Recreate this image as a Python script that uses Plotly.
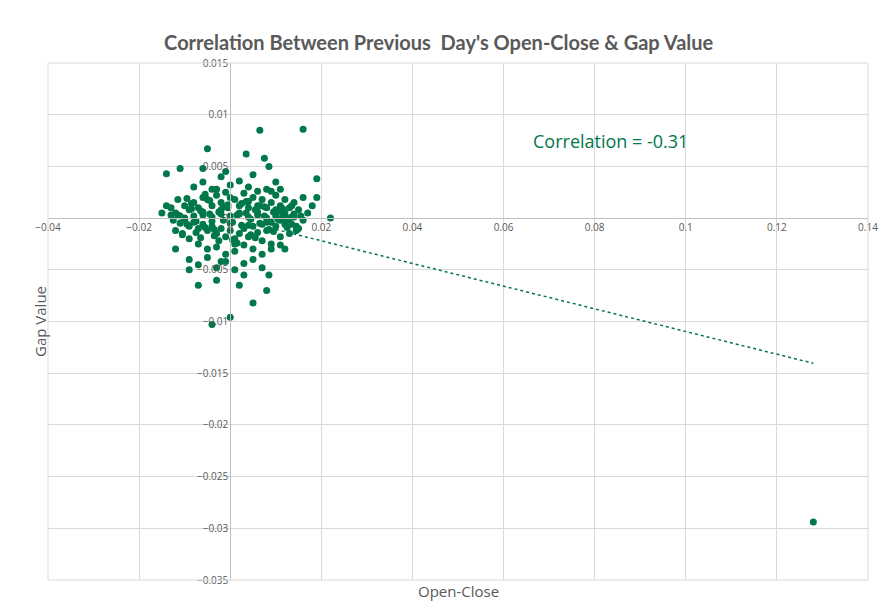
import plotly.graph_objects as go
import numpy as np

open_close = [0.128,0.016,0.0065,-0.005,0.0035,0.0075,0.0085,-0.014,-0.011,-0.006,0.019,0.019,0.022,0.017,-0.015,-0.012,-0.004,0.0,0.005,0.008,0.002,-0.007,0.0085,-0.009,-0.003,
 -0.013,-0.012,-0.010,-0.009,-0.008,-0.007,-0.006,-0.005,-0.004,-0.003,-0.002,-0.001,0.0,0.001,0.002,0.003,0.004,0.005,0.006,0.007,0.008,0.009,0.010,0.011,0.012,0.013,0.014,0.015,
 -0.011,-0.010,-0.009,-0.008,-0.007,-0.006,-0.005,-0.004,-0.003,-0.002,-0.001,0.0,0.001,0.002,0.003,0.004,0.005,0.006,0.007,0.008,0.009,0.010,0.011,0.012,0.013,
 -0.010,-0.008,-0.006,-0.004,-0.002,0.0,0.002,0.004,0.006,0.008,0.010,0.012,0.014,0.016,
 -0.012,-0.009,-0.007,-0.005,-0.003,-0.001,0.001,0.003,0.005,0.007,0.009,0.011,0.013,0.015,
 -0.008,-0.006,-0.004,-0.002,0.0,0.002,0.004,0.006,0.008,0.010,0.012,
 -0.009,-0.007,-0.005,-0.003,-0.001,0.001,0.003,0.005,0.007,0.009,0.011,
 -0.006,-0.004,-0.002,0.0,0.002,0.004,0.006,0.008,-0.003,0.001,0.005,0.009,0.003,-0.001,0.007,0.011,0.014,0.018,0.016,-0.013,-0.014,0.012,0.010,0.004,-0.002,
 -0.011,-0.0095,-0.0085,-0.0075,-0.0065,-0.0055,-0.0045,-0.0035,-0.0025,-0.0015,-0.0005,0.0005,0.0015,0.0025,0.0035,0.0045,0.0055,0.0065,0.0075,0.0085,0.0095,0.0105,0.0115,0.0125,0.0135,
 -0.0105,-0.0085,-0.0065,-0.0045,-0.0025,-0.0005,0.0015,0.0035,0.0055,0.0075,0.0095,0.0115,0.0135,
 -0.0095,-0.0075,-0.0055,-0.0035,-0.0015,0.0005,0.0025,0.0045,0.0065,0.0085,0.0105,0.0125,
 -0.0125,-0.0115,0.0145,0.0155,-0.0105,0.0135,-0.0115,0.0145]
gap_value = [-0.0294,0.0086,0.0085,0.0067,0.0062,0.0058,0.0050,0.0043,0.0048,0.0048,0.0038,0.0020,0.0,0.0005,0.0005,-0.0030,-0.0103,-0.0096,-0.0082,-0.0070,-0.0065,-0.0065,-0.0055,-0.0050,-0.0060,
 0.0010,0.0005,0.0012,0.0008,0.0015,0.0010,0.0020,0.0018,0.0012,0.0022,0.0015,0.0025,0.0020,0.0018,0.0012,0.0024,0.0016,0.0020,0.0012,0.0018,0.0010,0.0015,0.0008,0.0012,0.0005,0.0010,0.0004,0.0008,
 -0.0005,-0.0002,-0.0008,-0.0004,-0.0010,-0.0006,-0.0012,-0.0008,-0.0015,-0.0010,-0.0018,-0.0012,-0.0020,-0.0015,-0.0010,-0.0018,-0.0008,-0.0014,-0.0006,-0.0012,-0.0004,-0.0008,-0.0002,-0.0006,0.0000,
 0.0000,0.0002,0.0003,0.0001,0.0004,0.0002,0.0005,0.0001,0.0003,0.0000,0.0002,-0.0001,0.0001,-0.0002,
 -0.0012,-0.0020,-0.0025,-0.0030,-0.0028,-0.0035,-0.0032,-0.0026,-0.0030,-0.0022,-0.0025,-0.0018,-0.0015,-0.0010,
 0.0030,0.0035,0.0028,0.0040,0.0032,0.0036,0.0030,0.0026,0.0028,0.0022,0.0018,
 -0.0040,-0.0045,-0.0038,-0.0048,-0.0042,-0.0050,-0.0044,-0.0040,-0.0035,-0.0030,-0.0026,
 0.0006,-0.0003,0.0008,-0.0005,0.0004,-0.0007,0.0006,-0.0004,0.0028,-0.0025,0.0042,0.0026,-0.0055,0.0045,-0.0048,0.0028,0.0015,0.0012,0.0020,0.0003,0.0012,-0.0030,0.0035,0.0010,-0.0042,
 0.0002,-0.0006,0.0009,-0.0003,0.0007,-0.0009,0.0004,-0.0011,0.0006,-0.0002,0.0010,-0.0004,0.0003,-0.0007,0.0005,-0.0001,0.0008,-0.0005,0.0002,-0.0003,0.0006,-0.0001,0.0004,-0.0002,0.0001,
 -0.0016,0.0014,-0.0019,0.0017,-0.0022,0.0013,-0.0024,0.0016,-0.0019,0.0011,-0.0013,0.0009,-0.0006,
 0.0019,-0.0014,0.0023,-0.0017,0.0011,-0.0021,0.0014,-0.0016,0.0012,-0.0011,0.0007,-0.0009,
 -0.0002,0.0003,-0.0012,0.0002,-0.0015,0.0012,0.0018,-0.0008]

green = "#00784A"
slope, icpt = np.polyfit(open_close, gap_value, 1)
xl = np.array([0.01, max(open_close)])

fig = go.Figure()
fig.add_trace(go.Scatter(x=xl, y=slope*xl+icpt, mode="lines",
                         line=dict(color=green, width=1.5, dash="dot"), showlegend=False))
fig.add_trace(go.Scatter(x=open_close, y=gap_value, mode="markers",
                         marker=dict(color=green, size=7), showlegend=False))

ax = dict(showgrid=True, gridcolor="#d9d9d9", zeroline=False, showline=True,
          linecolor="#bfbfbf", ticks="", tickfont=dict(size=10, color="#595959", family="Open Sans"),
          anchor="free")
fig.update_layout(
    width=888, height=615, plot_bgcolor="white", paper_bgcolor="white",
    margin=dict(l=40, r=28, t=55, b=43, autoexpand=False),
    title=dict(text="Correlation Between Previous  Day's Open-Close & Gap Value", x=0.485, y=0.955,
               font=dict(size=20, color="#595959", family="Lato", weight="bold")),
    xaxis=dict(ax, range=[-0.04, 0.14], dtick=0.02, position=0.7),
    yaxis=dict(ax, range=[-0.035, 0.015], dtick=0.005, position=(0.04)/0.18),
    annotations=[
        dict(text="Correlation = -0.31", x=0.0834, y=0.0075, xref="x", yref="y", showarrow=False,
             font=dict(size=18, color=green, family="Open Sans")),
        dict(text="Open-Close", x=0.5, y=-0.045, xref="paper", yref="paper", showarrow=False,
             font=dict(size=15, color="#595959", family="Open Sans")),
        dict(text="Gap Value", x=-0.025, y=0.5, xref="paper", yref="paper", showarrow=False, textangle=-90,
             font=dict(size=15, color="#595959", family="Open Sans")),
    ],
    shapes=[dict(type="rect", xref="paper", yref="paper", x0=0, x1=1, y0=0, y1=1,
                 line=dict(color="#d9d9d9", width=1))],
)
fig.write_html("out.html")
